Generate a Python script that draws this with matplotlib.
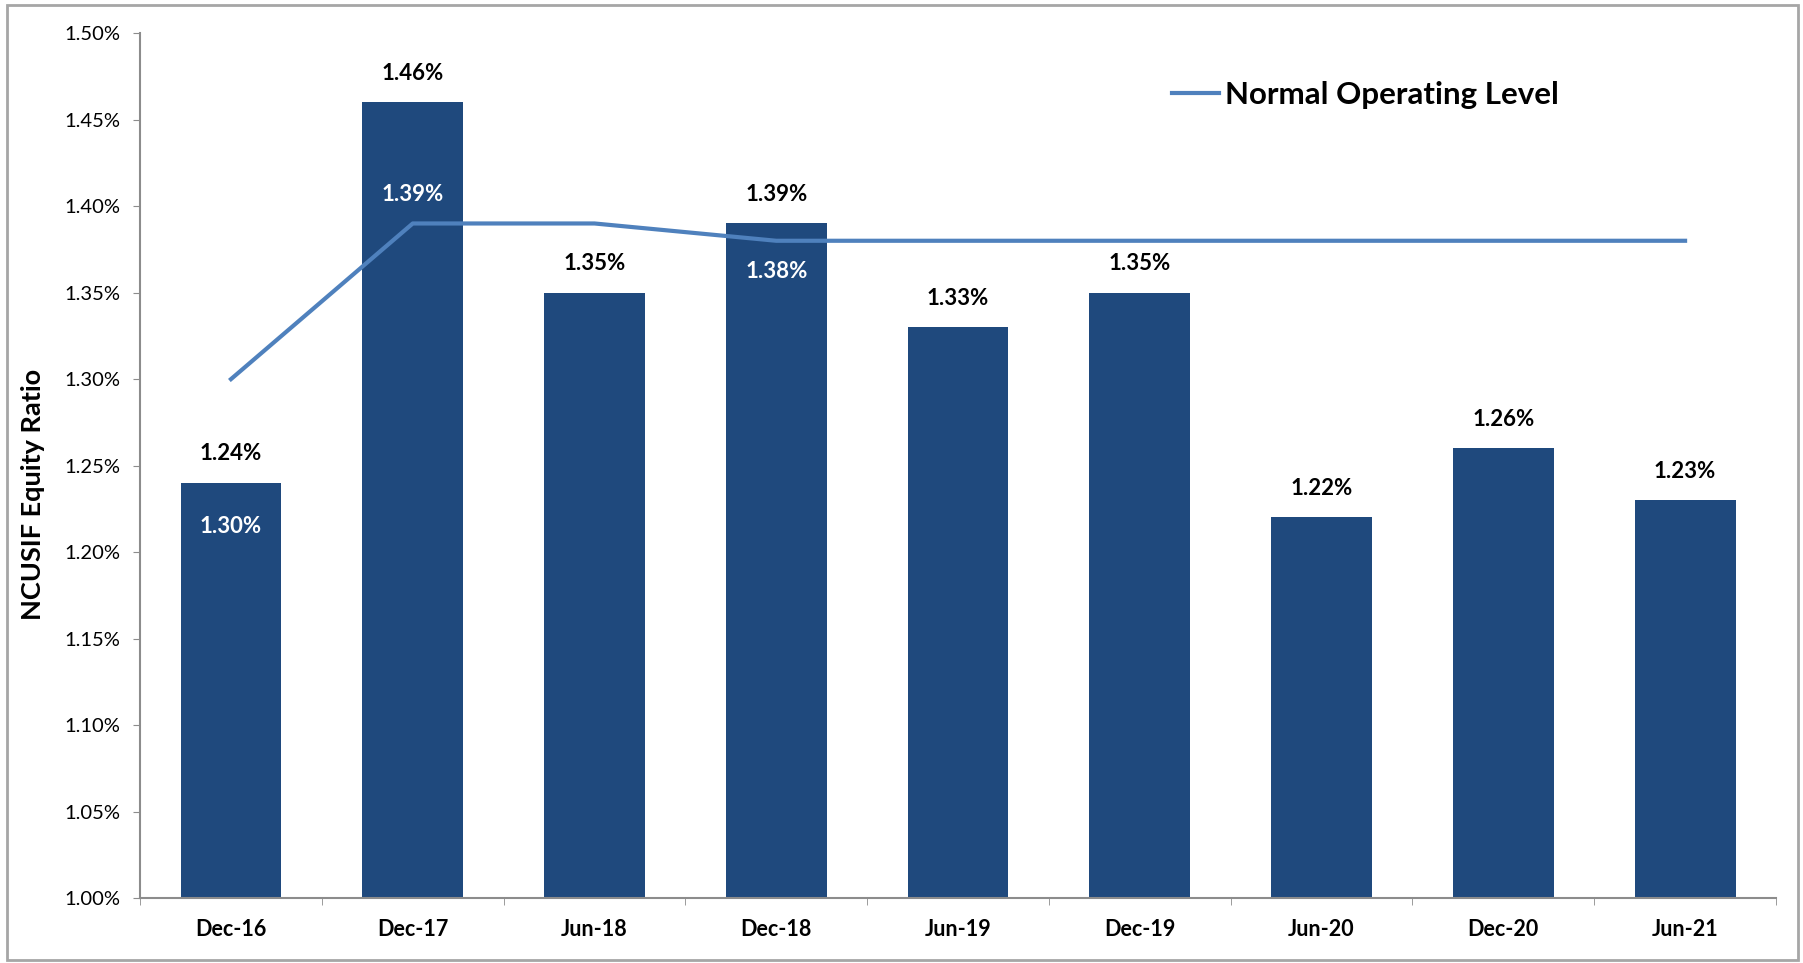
import matplotlib.pyplot as plt
from matplotlib.patches import Rectangle
from matplotlib.ticker import FuncFormatter, FixedLocator
import numpy as np

plt.rcParams["font.family"] = ["Lato", "DejaVu Sans"]

categories = ["Dec-16", "Dec-17", "Jun-18", "Dec-18", "Jun-19", "Dec-19", "Jun-20", "Dec-20", "Jun-21"]
equity_ratio = [1.24, 1.46, 1.35, 1.39, 1.33, 1.35, 1.22, 1.26, 1.23]
normal_level = [1.30, 1.39, 1.39, 1.38, 1.38, 1.38, 1.38, 1.38, 1.38]
# which points of the line carry a label, and the label's vertical offset (points)
line_label_idx = [0, 1, 3]
line_label_dy = [-106, 21, -22]

bar_color = "#1F497D"
line_color = "#4F81BD"
spine_color = "#8C8C8C"

fig = plt.figure(figsize=(18.03, 9.63), dpi=100)
ax = fig.add_axes([0.0777, 0.0675, 0.9073, 0.898])

x = np.arange(len(categories))
ax.bar(x, equity_ratio, width=0.555, color=bar_color, zorder=2)
ax.plot(x, normal_level, color=line_color, lw=3, zorder=3, label="Normal Operating Level")

for xi, v in zip(x, equity_ratio):
    ax.annotate(f"{v:.2f}%", (xi, v), xytext=(0, 21), textcoords="offset points",
                ha="center", va="center", fontsize=16, fontweight="bold", color="black")

for i, dy in zip(line_label_idx, line_label_dy):
    ax.annotate(f"{normal_level[i]:.2f}%", (x[i], normal_level[i]), xytext=(0, dy),
                textcoords="offset points", ha="center", va="center",
                fontsize=16, fontweight="bold", color="white", zorder=4)

ax.set_xlim(-0.5, len(categories) - 0.5)
ax.set_ylim(1.00, 1.50)
ax.set_yticks(np.arange(1.00, 1.501, 0.05))
ax.yaxis.set_major_formatter(FuncFormatter(lambda v, _: f"{v:.2f}%"))
ax.set_xticks(x)
ax.set_xticklabels(categories, fontsize=15.5, fontweight="bold")
ax.xaxis.set_minor_locator(FixedLocator(np.arange(-0.5, len(categories), 1.0)))
ax.tick_params(axis="x", which="major", length=0, pad=15)
ax.tick_params(axis="x", which="minor", length=5, color=spine_color, direction="out")
ax.tick_params(axis="y", length=5, color=spine_color, labelsize=14.5, pad=9)

for s in ["top", "right"]:
    ax.spines[s].set_visible(False)
for s in ["left", "bottom"]:
    ax.spines[s].set_color(spine_color)
    ax.spines[s].set_linewidth(1.5)

ax.set_ylabel("NCUSIF Equity Ratio", fontsize=19.5, fontweight="bold")
ax.yaxis.set_label_coords(-0.058, 0.467)

ax.legend(loc="center left", bbox_to_anchor=(0.631, 0.929), frameon=False,
          borderaxespad=0, borderpad=0, handlelength=1.5, handletextpad=0.2,
          prop={"size": 22.5, "weight": "bold"})

fig.patches.append(Rectangle((0.004, 0.003), 0.993, 0.992, transform=fig.transFigure,
                             fill=False, edgecolor="#A6A6A6", lw=2))

fig.savefig("out.png", dpi=100)
